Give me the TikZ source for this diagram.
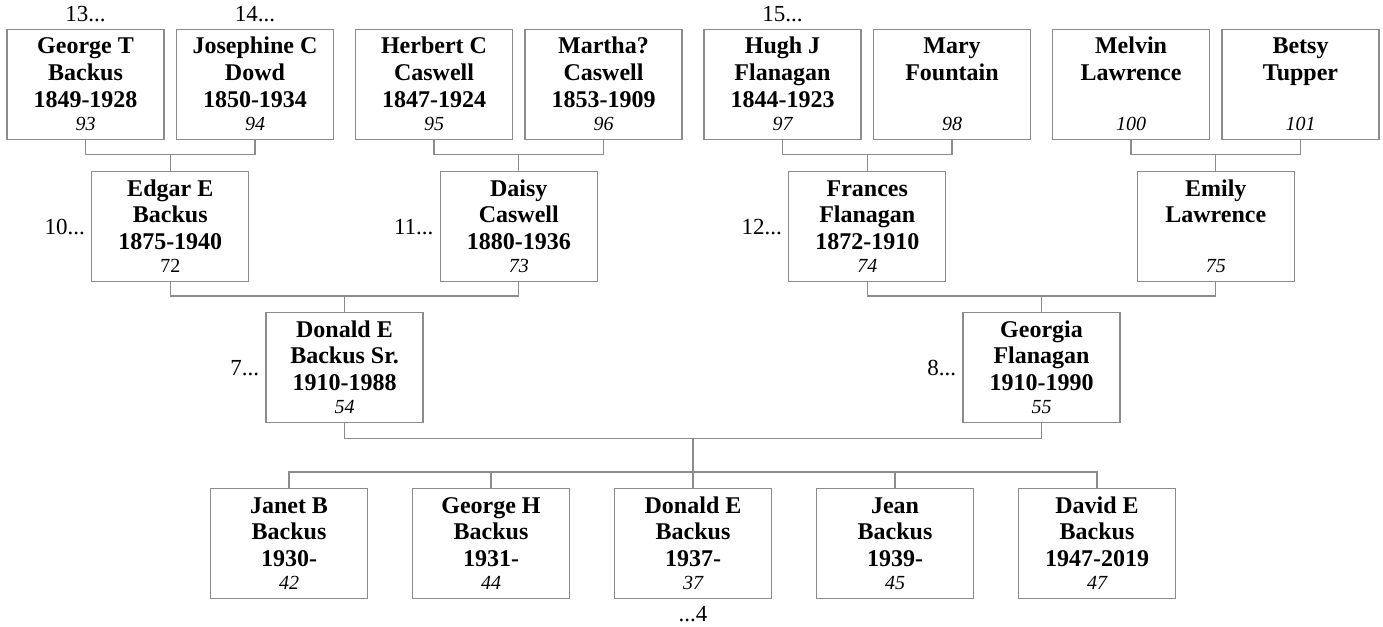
\documentclass[tikz,border=0pt]{standalone}
\usepackage{fontspec}
\setmainfont{Liberation Serif}
\usetikzlibrary{calc}
\definecolor{linegray}{RGB}{140,140,140}
\tikzset{
  pbox/.style={draw=linegray, line width=1.3pt, fill=white, minimum width=157pt, minimum height=110pt, inner sep=0pt, anchor=north},
  nm/.style={font=\fontsize{24}{26}\selectfont\bfseries, inner sep=0pt, anchor=base},
  num/.style={font=\fontsize{20}{22}\selectfont\itshape, inner sep=0pt, anchor=base},
  numup/.style={font=\fontsize{20}{22}\selectfont, inner sep=0pt, anchor=base},
  lab/.style={font=\fontsize{23}{25}\selectfont, inner sep=0pt},
  conn/.style={draw=linegray, line width=1.3pt}
}
% name, center x, top y, line1, line2, line3, number, number style
\newcommand{\person}[8]{%
  \node[pbox] (#1) at (#2,#3) {};
  \node[nm] (#1a) at ($(#1.north)+(0,25)$) {#4};
  \node[nm] (#1b) at ($(#1.north)+(0,51.5)$) {#5};
  \node[nm] (#1c) at ($(#1.north)+(0,78)$) {#6};
  \node[#8] (#1d) at ($(#1.north)+(0,101)$) {#7};
}
\begin{document}
\begin{tikzpicture}[x=1pt,y=-1pt]
\useasboundingbox (0,0) rectangle (1383,626);
% top row
\person{t1}{85.5}{29}{George T}{Backus}{1849-1928}{93}{num}
\person{t2}{255}{29}{Josephine C}{Dowd}{1850-1934}{94}{num}
\person{t3}{434}{29}{Herbert C}{Caswell}{1847-1924}{95}{num}
\person{t4}{603.5}{29}{Martha?}{Caswell}{1853-1909}{96}{num}
\person{t5}{782.5}{29}{Hugh J}{Flanagan}{1844-1923}{97}{num}
\person{t6}{952}{29}{Mary}{Fountain}{}{98}{num}
\person{t7}{1131}{29}{Melvin}{Lawrence}{}{100}{num}
\person{t8}{1300.5}{29}{Betsy}{Tupper}{}{101}{num}
% second row
\person{e1}{170.25}{171}{Edgar E}{Backus}{1875-1940}{72}{numup}
\person{e2}{518.75}{171}{Daisy}{Caswell}{1880-1936}{73}{num}
\person{e3}{867.25}{171}{Frances}{Flanagan}{1872-1910}{74}{num}
\person{e4}{1215.75}{171}{Emily}{Lawrence}{}{75}{num}
% third row
\person{g1}{344.5}{312}{Donald E}{Backus Sr.}{1910-1988}{54}{num}
\person{g2}{1041.5}{312}{Georgia}{Flanagan}{1910-1990}{55}{num}
% children
\person{k1}{289}{488}{Janet B}{Backus}{1930-}{42}{num}
\person{k2}{491}{488}{George H}{Backus}{1931-}{44}{num}
\person{k3}{693}{488}{Donald E}{Backus}{1937-}{37}{num}
\person{k4}{895}{488}{Jean}{Backus}{1939-}{45}{num}
\person{k5}{1097}{488}{David E}{Backus}{1947-2019}{47}{num}
% couple connectors
\coordinate (m1) at ($(e1.north)+(0,-16.5)$);
\draw[conn] (t1.south) |- (m1) -| (t2.south);
\draw[conn] (m1) -- (e1.north);
\coordinate (m2) at ($(e2.north)+(0,-16.5)$);
\draw[conn] (t3.south) |- (m2) -| (t4.south);
\draw[conn] (m2) -- (e2.north);
\coordinate (m3) at ($(e3.north)+(0,-16.5)$);
\draw[conn] (t5.south) |- (m3) -| (t6.south);
\draw[conn] (m3) -- (e3.north);
\coordinate (m4) at ($(e4.north)+(0,-16.5)$);
\draw[conn] (t7.south) |- (m4) -| (t8.south);
\draw[conn] (m4) -- (e4.north);
\coordinate (n1) at ($(g1.north)+(0,-16)$);
\draw[conn] (e1.south) |- (n1) -| (e2.south);
\draw[conn] (n1) -- (g1.north);
\coordinate (n2) at ($(g2.north)+(0,-16)$);
\draw[conn] (e3.south) |- (n2) -| (e4.south);
\draw[conn] (n2) -- (g2.north);
% children connectors
\coordinate (pm) at ($(g1.south)!0.5!(g2.south)+(0,15)$);
\draw[conn] (g1.south) |- (pm) -| (g2.south);
\coordinate (cm) at ($(k3.north)+(0,-16)$);
\draw[conn] (pm) -- (cm);
\draw[conn] (k1.north) |- (cm) -| (k5.north);
\draw[conn] (cm) -- (k3.north);
\draw[conn] (k2.north) -- (k2.north |- cm);
\draw[conn] (k4.north) -- (k4.north |- cm);
% continuation labels
\node[lab, anchor=base] (l13) at ($(t1.north)+(0,-7)$) {13...};
\node[lab, anchor=base] (l14) at ($(t2.north)+(0,-7)$) {14...};
\node[lab, anchor=base] (l15) at ($(t5.north)+(0,-7)$) {15...};
\node[lab, anchor=east] (l10) at ($(e1.west)+(-6,0)$) {10...};
\node[lab, anchor=east] (l11) at ($(e2.west)+(-6,0)$) {11...};
\node[lab, anchor=east] (l12) at ($(e3.west)+(-6,0)$) {12...};
\node[lab, anchor=east] (l7) at ($(g1.west)+(-6,0)$) {7...};
\node[lab, anchor=east] (l8) at ($(g2.west)+(-6,0)$) {8...};
\node[lab, anchor=base] (l4) at ($(k3.south)+(0,22)$) {...4};
\end{tikzpicture}
\end{document}
